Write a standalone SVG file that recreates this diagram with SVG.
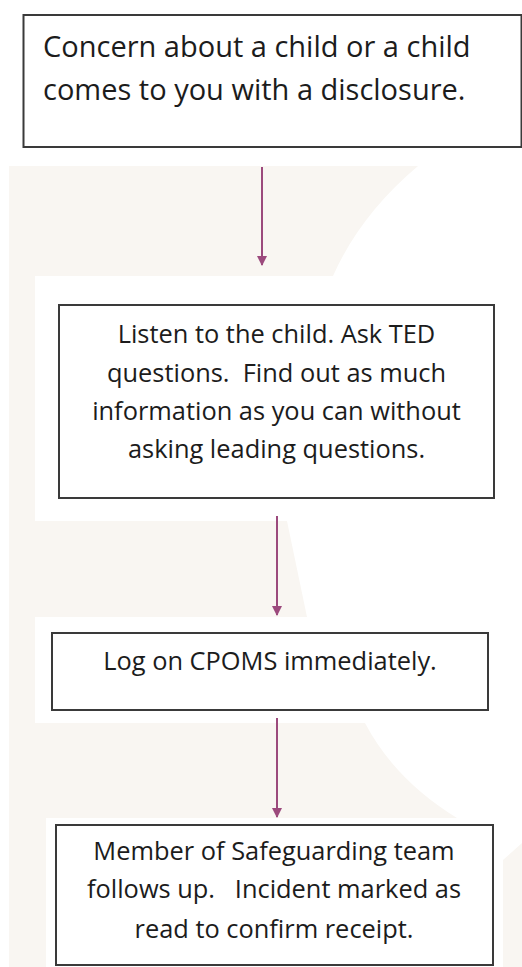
<svg xmlns="http://www.w3.org/2000/svg" width="522" height="967" viewBox="0 0 522 967">
  <style>
    .bg { fill: #f9f6f2; }
    .box { fill: #ffffff; stroke: #3a3a3a; stroke-width: 2; }
    .t { font-family: "Open Sans", "Liberation Sans", sans-serif; fill: #1c1c1c; }
    .t1 { font-size: 29px; }
    .t2 { font-size: 25.4px; text-anchor: middle; }
    .conn { stroke: #9c4a7d; stroke-width: 2; fill: none; marker-end: url(#arrow); }
  </style>
  <defs>
    <marker id="arrow" viewBox="0 0 10 10" refX="9" refY="5" markerWidth="5" markerHeight="5" orient="auto" markerUnits="strokeWidth">
      <path d="M0,0 L10,5 L0,10 z" fill="#9c4a7d"/>
    </marker>
  </defs>
  <rect width="522" height="967" fill="#ffffff"/>
  <g id="background">
    <rect class="bg" x="9" y="166" width="26" height="801"/>
    <path class="bg" d="M9,166 L418,166 Q360,215 333,276 L9,276 z"/>
    <path class="bg" d="M35,521 L287,521 L307,617 L35,617 z"/>
    <path class="bg" d="M35,723 L365,723 Q395,780 457,818 L35,818 z"/>
    <rect class="bg" x="35" y="818" width="11" height="149"/>
    <path class="bg" d="M503,860 L522,843 L522,967 L503,967 z"/>
  </g>
  <g id="connectors">
    <line class="conn" x1="262" y1="167" x2="262" y2="265"/>
    <line class="conn" x1="277" y1="516" x2="277" y2="615"/>
    <line class="conn" x1="277" y1="718" x2="277" y2="817"/>
  </g>
  <g id="node1">
    <rect class="box" x="23.5" y="15" width="498" height="132"/>
    <text class="t t1" x="43" y="57">Concern about a child or a child</text>
    <text class="t t1" x="43" y="100">comes to you with a disclosure.</text>
  </g>
  <g id="node2">
    <rect class="box" x="59" y="305" width="435" height="193"/>
    <text class="t t2" x="276.5" y="343">Listen to the child. Ask TED</text>
    <text class="t t2" x="276.5" y="381.5" xml:space="preserve">questions.  Find out as much</text>
    <text class="t t2" x="276.5" y="420">information as you can without</text>
    <text class="t t2" x="276.5" y="458">asking leading questions.</text>
  </g>
  <g id="node3">
    <rect class="box" x="52" y="633" width="436" height="77"/>
    <text class="t t2" x="270" y="670">Log on CPOMS immediately.</text>
  </g>
  <g id="node4">
    <rect class="box" x="56" y="825" width="437" height="140"/>
    <text class="t t2" x="274" y="860">Member of Safeguarding team</text>
    <text class="t t2" x="274" y="898" xml:space="preserve">follows up.   Incident marked as</text>
    <text class="t t2" x="274" y="938">read to confirm receipt.</text>
  </g>
</svg>
